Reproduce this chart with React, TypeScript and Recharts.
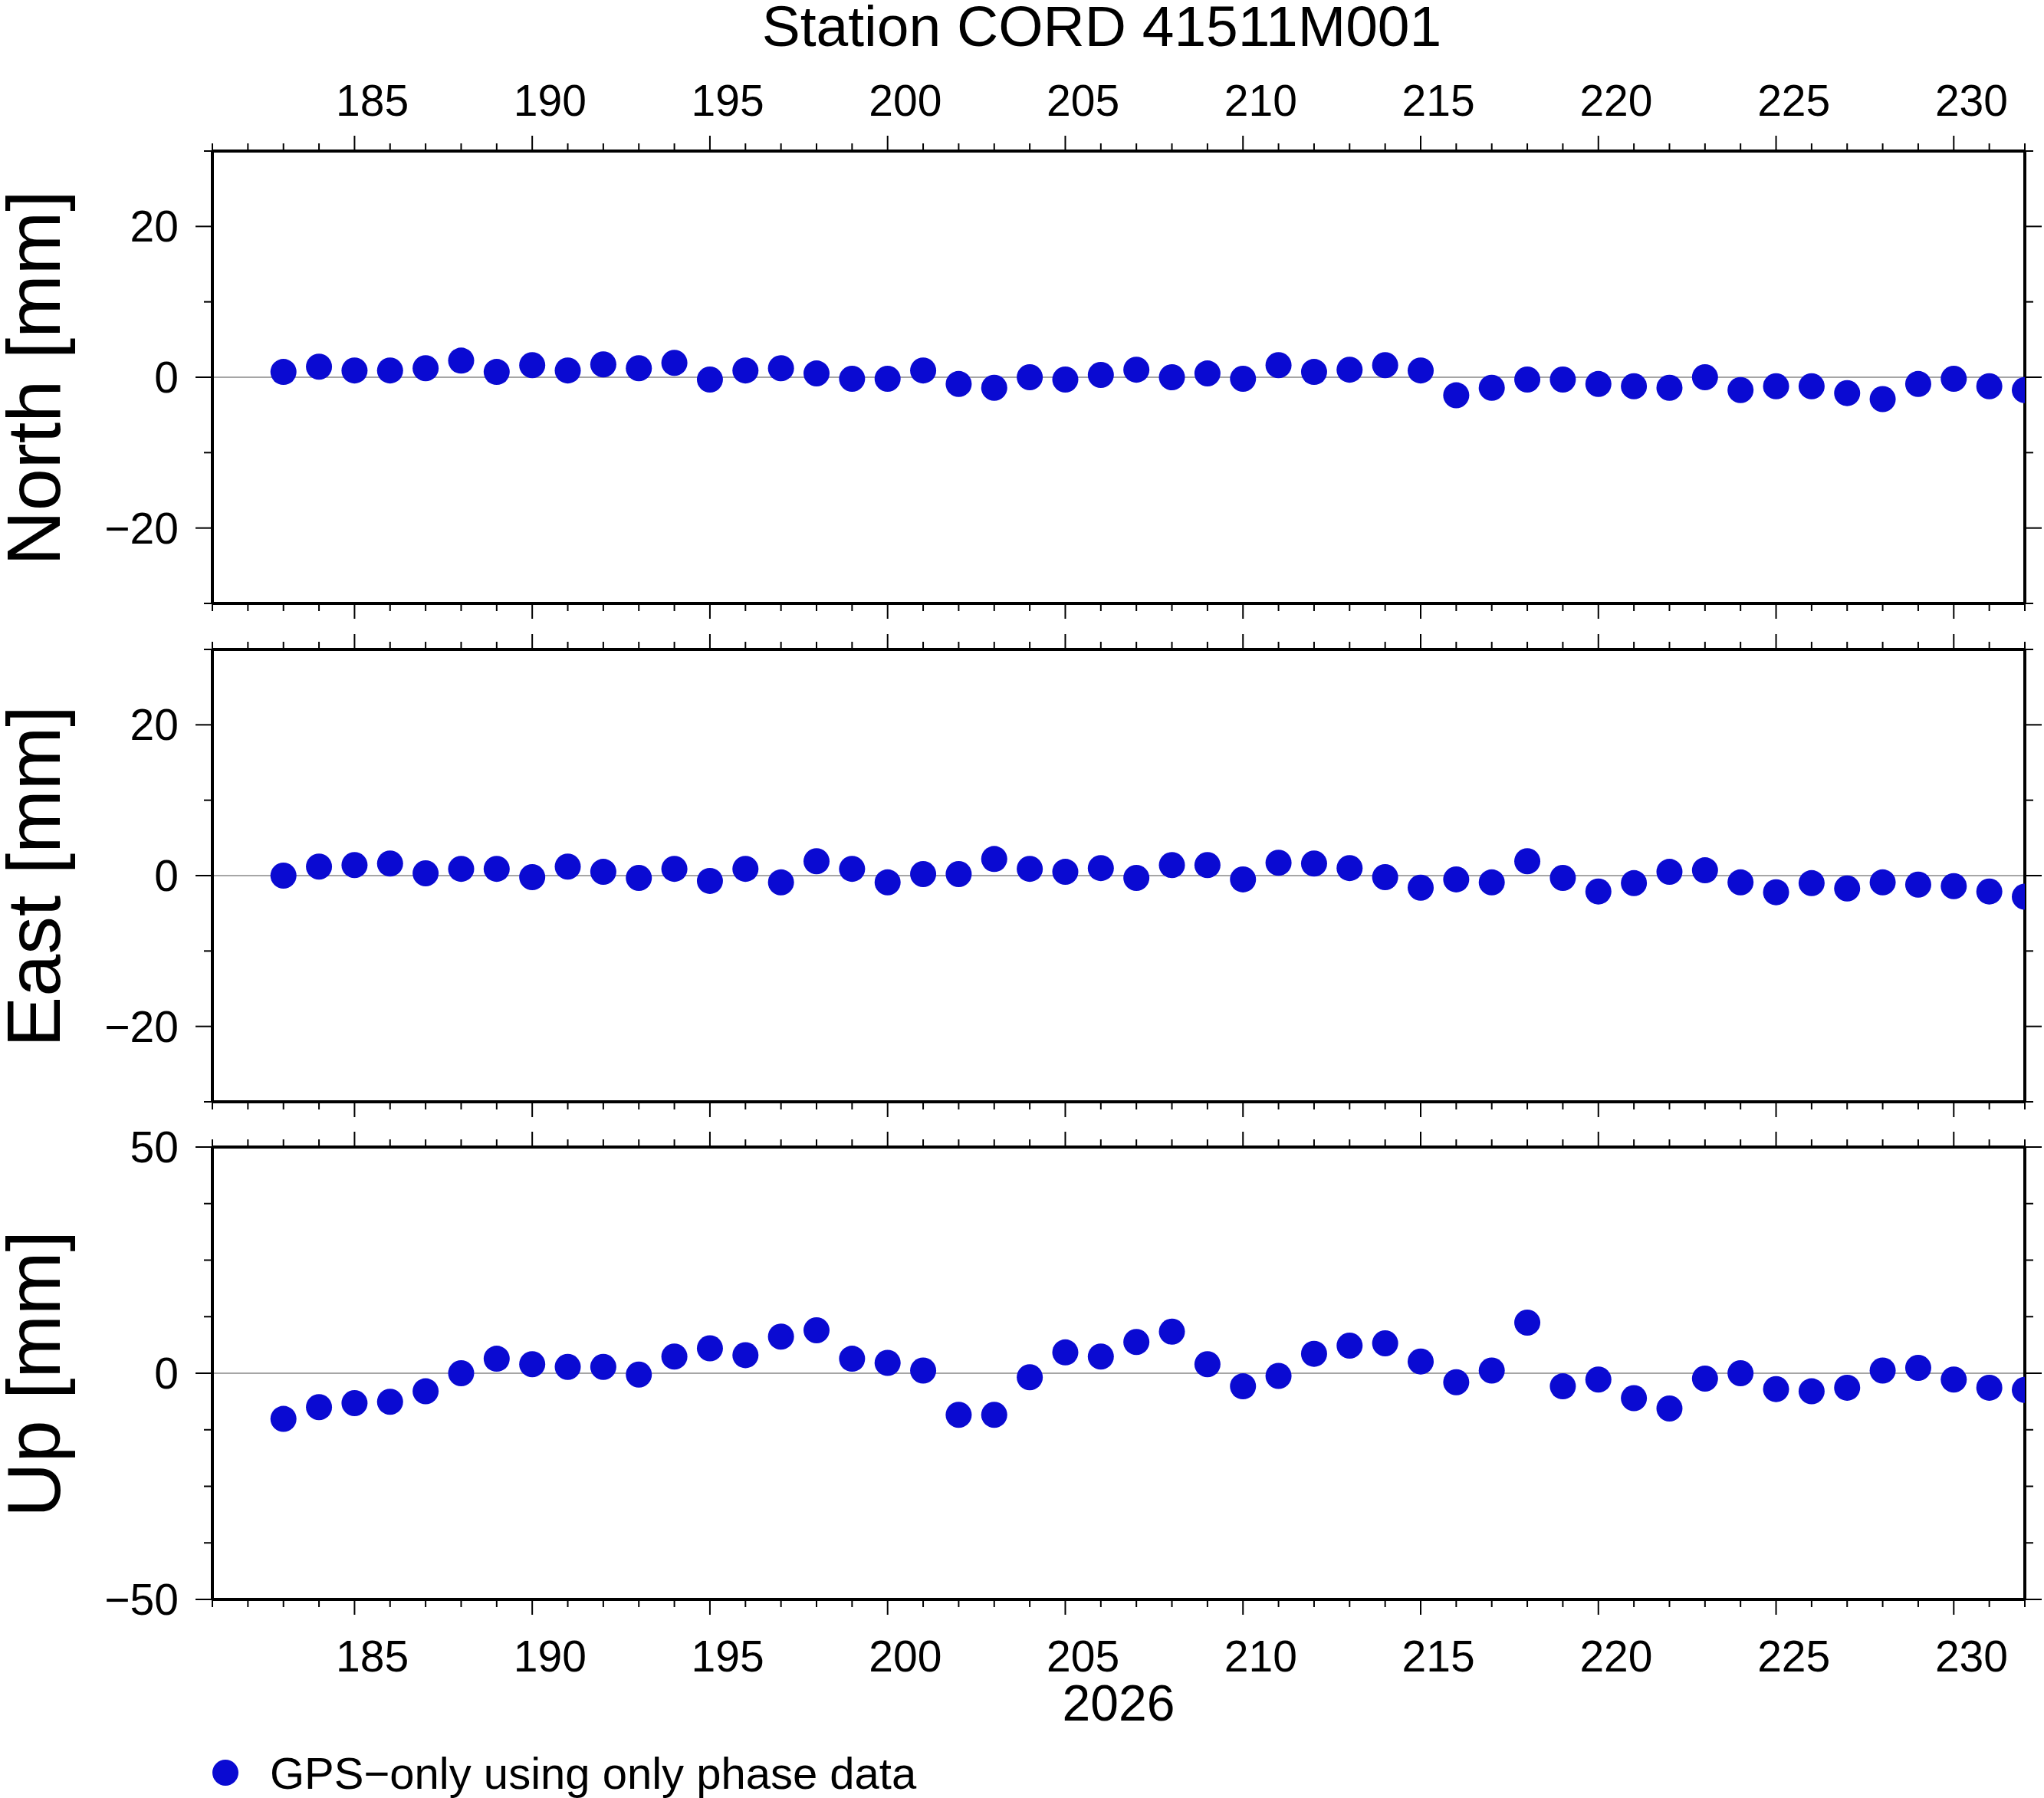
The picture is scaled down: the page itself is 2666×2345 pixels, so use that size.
import { ScatterChart, Scatter, XAxis, YAxis, ReferenceLine } from 'recharts';

const days = Array.from({ length: 50 }, (_, i) => 183 + i);
const north = [0.7, 1.4, 0.9, 0.9, 1.2, 2.2, 0.7, 1.6, 0.9, 1.7, 1.2, 1.9, -0.3, 0.9, 1.2, 0.5, -0.2, -0.2, 0.9, -0.9, -1.4, 0, -0.3, 0.3, 1.0, 0, 0.5, -0.2, 1.6, 0.7, 1.0, 1.6, 0.9, -2.4, -1.4, -0.3, -0.3, -0.9, -1.2, -1.4, 0, -1.7, -1.2, -1.2, -2.1, -2.9, -0.9, -0.2, -1.2, -1.7];
const east = [0, 1.2, 1.4, 1.6, 0.3, 0.9, 0.9, -0.2, 1.2, 0.5, -0.3, 0.9, -0.7, 0.9, -0.9, 1.9, 0.9, -0.9, 0.2, 0.2, 2.2, 0.9, 0.5, 1.0, -0.3, 1.4, 1.4, -0.5, 1.7, 1.6, 1.0, -0.2, -1.6, -0.5, -0.9, 1.9, -0.3, -2.1, -1.0, 0.5, 0.7, -0.9, -2.2, -1.0, -1.7, -0.9, -1.2, -1.4, -2.1, -2.8];
const up = [-10.1, -7.5, -6.6, -6.3, -4.0, 0, 3.2, 2.0, 1.4, 1.4, -0.3, 3.7, 5.5, 4.0, 8.1, 9.5, 3.2, 2.3, 0.6, -9.2, -9.2, -0.9, 4.6, 3.7, 6.9, 9.2, 2.0, -2.9, -0.6, 4.3, 6.1, 6.6, 2.6, -2.0, 0.6, 11.2, -2.9, -1.4, -5.5, -7.8, -1.2, 0, -3.5, -4.0, -3.2, 0.6, 1.2, -1.4, -3.2, -3.7];

const xTicks = Array.from({ length: 52 }, (_, i) => 181 + i);
const nTicks = [-30, -20, -10, 0, 10, 20, 30];
const uTicks = [-50, -37.5, -25, -12.5, 0, 12.5, 25, 37.5, 50];

const FONT = '"Liberation Sans", Arial, sans-serif';
const BLUE = '#0a0ad2';
const L = 277;
const R = 2641;
const W = 2666;
const H = 2345;
const DAYPX = (R - L) / 51;

const XTick = (side: 'top' | 'bottom', labels: boolean) => (p: any) => {
  const v = p.payload.value;
  const major = v % 5 === 0;
  const len = major ? 20 : 10;
  const d = side === 'top' ? -1 : 1;
  return (
    <g>
      <line x1={p.x} x2={p.x} y1={p.y} y2={p.y + d * len} stroke="#000" strokeWidth={2} />
      {labels && major && v <= 230 && (
        <text x={p.x + DAYPX / 2} y={side === 'top' ? p.y - 46 : p.y + 94} textAnchor="middle" fontSize={57} fontFamily={FONT} fill="#000">
          {v}
        </text>
      )}
    </g>
  );
};

const YTick = (side: 'left' | 'right', step: number) => (p: any) => {
  const v = p.payload.value;
  const major = v % step === 0;
  const len = major ? 22 : 11;
  const d = side === 'left' ? -1 : 1;
  return (
    <g>
      <line x1={p.x} x2={p.x + d * len} y1={p.y} y2={p.y} stroke="#000" strokeWidth={2} />
      {side === 'left' && major && (
        <text x={p.x - 44} y={p.y + 20} textAnchor="end" fontSize={57} fontFamily={FONT} fill="#000">
          {v < 0 ? '\u2212' + Math.abs(v) : v}
        </text>
      )}
    </g>
  );
};

const axisLine = { stroke: '#000', strokeWidth: 4 };

const Panel = ({ vals, top, bottom, ticks, lim, step, topLabels, bottomLabels }: any) => {
  const data = days.map((d, i) => ({ day: d, v: vals[i] }));
  return (
    <div style={{ position: 'absolute', left: 0, top: 0 }}>
      <ScatterChart width={W} height={H} margin={{ top: top - 1, bottom: H - bottom - 1, left: L - 1, right: W - R - 1 }}>
        <XAxis xAxisId="b" dataKey="day" type="number" domain={[181, 232]} ticks={xTicks} orientation="bottom" height={1} tickSize={0} tickMargin={0} tickLine={false} axisLine={axisLine} tick={XTick('bottom', bottomLabels)} interval={0} allowDataOverflow />
        <XAxis xAxisId="t" dataKey="day" type="number" domain={[181, 232]} ticks={xTicks} orientation="top" height={1} tickSize={0} tickMargin={0} tickLine={false} axisLine={axisLine} tick={XTick('top', topLabels)} interval={0} allowDataOverflow />
        <YAxis yAxisId="l" dataKey="v" type="number" domain={[-lim, lim]} ticks={ticks} width={1} tickSize={0} tickMargin={0} tickLine={false} axisLine={axisLine} tick={YTick('left', step)} interval={0} allowDataOverflow />
        <YAxis yAxisId="r" dataKey="v" orientation="right" type="number" domain={[-lim, lim]} ticks={ticks} width={1} tickSize={0} tickMargin={0} tickLine={false} axisLine={axisLine} tick={YTick('right', step)} interval={0} allowDataOverflow />
        <ReferenceLine xAxisId="b" yAxisId="l" y={0} stroke="#888" strokeWidth={1.5} />
        <Scatter xAxisId="t" yAxisId="r" data={data} isAnimationActive={false} shape={() => <g />} />
        <Scatter xAxisId="b" yAxisId="l" data={data} isAnimationActive={false} shape={(p: any) => <circle cx={p.cx} cy={p.cy} r={17} fill={BLUE} />} />
      </ScatterChart>
    </div>
  );
};

const ylab = (text: string, cy: number) => (
  <div style={{ position: 'absolute', left: 43, top: cy, transform: 'translate(-50%,-50%) rotate(-90deg)', fontFamily: FONT, fontSize: 99, whiteSpace: 'nowrap', lineHeight: 1 }}>
    {text}
  </div>
);

export default function App() {
  return (
    <div style={{ position: 'absolute', left: 0, top: 0, width: W, height: H, background: '#fff', fontFamily: FONT }}>
      <div style={{ position: 'absolute', left: 0, width: 2874, top: -6, textAlign: 'center', fontSize: 75, lineHeight: '80px' }}>Station CORD 41511M001</div>
      <Panel vals={north} top={197} bottom={787} ticks={nTicks} lim={30} step={20} topLabels bottomLabels={false} />
      <Panel vals={east} top={847} bottom={1437} ticks={nTicks} lim={30} step={20} topLabels={false} bottomLabels={false} />
      <Panel vals={up} top={1496} bottom={2086} ticks={uTicks} lim={50} step={50} topLabels={false} bottomLabels />
      {ylab('North [mm]', 493)}
      {ylab('East [mm]', 1143)}
      {ylab('Up [mm]', 1792)}
      <div style={{ position: 'absolute', left: 1459, top: 2188, transform: 'translateX(-50%)', fontSize: 66, lineHeight: 1 }}>2026</div>
      <div style={{ position: 'absolute', left: 277, top: 2295, width: 34, height: 34, borderRadius: 17, background: BLUE }} />
      <div style={{ position: 'absolute', left: 352, top: 2284, fontSize: 58, lineHeight: 1 }}>GPS−only using only phase data</div>
    </div>
  );
}
